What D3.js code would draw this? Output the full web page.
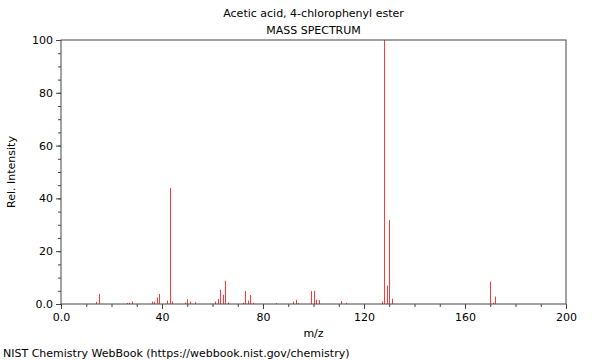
<!DOCTYPE html>
<html>
<head>
<meta charset="utf-8">
<title>Acetic acid, 4-chlorophenyl ester</title>
<script src="https://cdn.jsdelivr.net/npm/d3@7"></script>
<style>
  body { margin: 0; background: #fff; }
  svg text { font-family: "DejaVu Sans", sans-serif; font-size: 11px; fill: #000; }
  .axis path, .axis line { stroke: #444; }
</style>
</head>
<body>
<div id="chart"></div>
<script>
// peaks
var mz = [14, 15, 26, 27, 28, 36, 37, 38, 39, 42, 43, 44, 49, 50, 51, 53,
          61, 62, 63, 64, 65, 66, 72, 73, 74, 75, 76, 85, 92, 93, 94,
          99, 100, 101, 102, 111, 113, 127, 128, 129, 130, 131, 170, 171, 172];
var intensity = [0.8, 3.8, 0.4, 0.5, 0.9, 0.9, 0.9, 2.5, 3.8, 1.3, 43.9, 0.9, 0.5, 1.8, 0.9, 0.7,
          0.9, 1.9, 5.4, 3.5, 8.8, 0.6, 0.5, 4.9, 1.3, 3.4, 0.5, 0.3, 0.9, 1.6, 0.3,
          4.9, 5.0, 1.6, 1.5, 1.1, 0.4, 0.9, 100, 7.0, 31.8, 2.0, 8.5, 0.5, 2.8];
var xTicks = [0, 40, 80, 120, 160, 200];
var yTicks = [0, 20, 40, 60, 80, 100];

var width = 600, height = 360;
var margin = {top: 40, right: 34, bottom: 56, left: 61};

var svg = d3.select("#chart").append("svg")
    .attr("width", width)
    .attr("height", height);

var x = d3.scaleLinear().domain([0, 200]).range([margin.left, width - margin.right]);
var y = d3.scaleLinear().domain([0, 100]).range([height - margin.bottom, margin.top]);

// minor ticks first
svg.append("g").attr("class", "axis")
    .attr("transform", "translate(0," + y(0) + ")")
    .call(d3.axisBottom(x).tickValues(d3.range(0, 201, 10)).tickSize(3).tickFormat(""))
    .select(".domain").remove();
svg.append("g").attr("class", "axis")
    .attr("transform", "translate(" + x(0) + ",0)")
    .call(d3.axisLeft(y).tickValues(d3.range(0, 101, 5)).tickSize(3).tickFormat(""))
    .select(".domain").remove();

// major ticks
svg.append("g").attr("class", "axis")
    .attr("transform", "translate(0," + y(0) + ")")
    .call(d3.axisBottom(x).tickValues(xTicks).tickSize(5).tickSizeOuter(0).tickPadding(4)
        .tickFormat(function(d) { return d === 0 ? "0.0" : d; }))
    .select(".domain").remove();
svg.append("g").attr("class", "axis")
    .attr("transform", "translate(" + x(0) + ",0)")
    .call(d3.axisLeft(y).tickValues(yTicks).tickSize(5).tickSizeOuter(0).tickPadding(3)
        .tickFormat(function(d) { return d === 0 ? "0.0" : d; }))
    .select(".domain").remove();

// peaks, snapped to the pixel grid
svg.selectAll(".peak")
    .data(mz)
    .enter()
    .append("line")
    .attr("class", "peak")
    .attr("x1", function(d) { return Math.round(x(d)) + 0.5; })
    .attr("x2", function(d) { return Math.round(x(d)) + 0.5; })
    .attr("y1", y(0))
    .attr("y2", function(d, i) { return y(intensity[i]); })
    .attr("stroke", "#ff3838")
    .attr("stroke-width", 1);

// frame
svg.append("rect")
    .attr("x", x(0)).attr("y", y(100))
    .attr("width", x(200) - x(0)).attr("height", y(0) - y(100))
    .attr("fill", "none").attr("stroke", "#444");

var cx = (x(0) + x(200)) / 2;
svg.append("text").attr("x", cx).attr("y", 17).attr("text-anchor", "middle")
    .text("Acetic acid, 4-chlorophenyl ester");
svg.append("text").attr("x", cx).attr("y", 34).attr("text-anchor", "middle")
    .text("MASS SPECTRUM");
svg.append("text").attr("x", cx).attr("y", 337).attr("text-anchor", "middle")
    .text("m/z");
svg.append("text")
    .attr("transform", "translate(15," + ((y(0) + y(100)) / 2) + ") rotate(-90)")
    .attr("text-anchor", "middle")
    .text("Rel. Intensity");
svg.append("text").attr("x", 3).attr("y", 357)
    .text("NIST Chemistry WebBook (https://webbook.nist.gov/chemistry)");
</script>
</body>
</html>
